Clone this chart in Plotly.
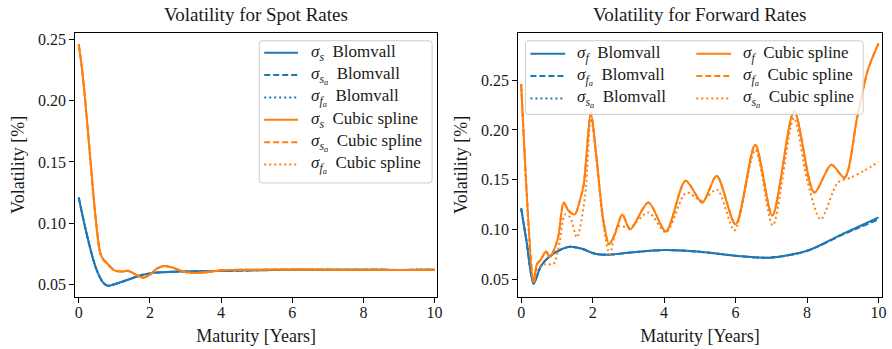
import plotly.graph_objects as go

BLUE = "#1f77b4"
ORANGE = "#ff7f0e"
FONT = "Liberation Serif"
TXT = "#1a1a1a"

# ---- Spot-rate volatility (left panel) ----
spot_maturity = [0, 0.1, 0.2, 0.3, 0.4, 0.5, 0.6, 0.7, 0.8, 0.9, 1.0, 1.2, 1.4, 1.6,
                 1.8, 2.0, 2.2, 2.4, 2.6, 2.8, 3.0, 3.3, 3.6, 4, 5, 6, 7, 8, 9, 10]
spot_blomvall = [0.121, 0.107, 0.094, 0.082, 0.071, 0.062, 0.0555, 0.051, 0.049, 0.0492,
                 0.050, 0.052, 0.054, 0.056, 0.0578, 0.059, 0.0597, 0.060, 0.0603, 0.0605,
                 0.0606, 0.0607, 0.0608, 0.061, 0.0615, 0.062, 0.062, 0.062, 0.0618, 0.062]
spot_cubic = [0.246, 0.224, 0.194, 0.161, 0.127, 0.097, 0.076, 0.070, 0.067, 0.064,
              0.0615, 0.0605, 0.061, 0.058, 0.0555, 0.058, 0.063, 0.065, 0.064, 0.062,
              0.060, 0.0593, 0.060, 0.0615, 0.062, 0.0622, 0.062, 0.062, 0.0618, 0.062]
# averaged measures coincide with the instantaneous ones on the spot curve
spot_sa_blomvall = spot_blomvall
spot_fa_blomvall = spot_blomvall
spot_sa_cubic = spot_cubic
spot_fa_cubic = spot_cubic

# ---- Forward-rate volatility (right panel) ----
fwd_maturity_blomvall = [0, 0.15, 0.35, 0.55, 0.77, 1.05, 1.37, 1.7, 2.07, 2.44, 3.0,
                         4.0, 5.0, 6.0, 6.94, 8.0, 9.0, 10]
fwd_f_blomvall = [0.121, 0.088, 0.0455, 0.063, 0.072, 0.0787, 0.0825, 0.0805, 0.0755,
                  0.0745, 0.0765, 0.0792, 0.0775, 0.0735, 0.0715, 0.0785, 0.0955, 0.112]
fwd_fa_blomvall = [0.121, 0.088, 0.0455, 0.063, 0.072, 0.0787, 0.0825, 0.0805, 0.0755,
                   0.0745, 0.0765, 0.0792, 0.0775, 0.0735, 0.0715, 0.0783, 0.0948, 0.110]
fwd_sa_blomvall = [0.121, 0.088, 0.0455, 0.063, 0.072, 0.0787, 0.0825, 0.0805, 0.0755,
                   0.0745, 0.0765, 0.0792, 0.0775, 0.0735, 0.0715, 0.0785, 0.0952, 0.111]

fwd_maturity_cubic = [0, 0.35, 0.44, 0.54, 0.7, 0.8, 0.97, 1.05, 1.19, 1.32, 1.5, 1.65,
                      1.75, 1.95, 2.1, 2.3, 2.46, 2.62, 2.83, 3.05, 3.56, 4.05, 4.6, 5.07,
                      5.47, 6.0, 6.55, 7.03, 7.64, 8.2, 8.68, 9.05, 9.4, 9.7, 10]
fwd_f_cubic = [0.246, 0.047, 0.065, 0.069, 0.078, 0.072, 0.084, 0.095, 0.127, 0.119,
               0.115, 0.130, 0.145, 0.217, 0.175, 0.109, 0.085, 0.095, 0.115, 0.100,
               0.127, 0.098, 0.149, 0.127, 0.154, 0.105, 0.185, 0.114, 0.219, 0.137,
               0.165, 0.152, 0.212, 0.260, 0.287]
fwd_fa_cubic = fwd_f_cubic

fwd_maturity_sa_cubic = [0, 0.35, 0.45, 0.68, 0.9, 1.05, 1.23, 1.37, 1.56, 1.79, 1.95,
                         2.1, 2.3, 2.48, 2.71, 3.05, 3.56, 4.05, 4.62, 5.05, 5.48, 5.97,
                         6.55, 7.04, 7.63, 8.0, 8.38, 8.86, 9.21, 9.6, 10]
fwd_sa_cubic = [0.246, 0.047, 0.060, 0.065, 0.065, 0.082, 0.115, 0.112, 0.092, 0.134,
                0.214, 0.172, 0.105, 0.075, 0.103, 0.102, 0.117, 0.097, 0.137, 0.129,
                0.140, 0.099, 0.180, 0.104, 0.212, 0.150, 0.110, 0.147, 0.152, 0.159,
                0.168]

x_ticks = [0, 2, 4, 6, 8, 10]
y_ticks = [0.05, 0.10, 0.15, 0.20, 0.25]

SOLID = "solid"
DASHED = "6px,3px"
DOTTED = "2px,3px"
GAP = "\u2002"  # space between the symbol and the method name


def sig(base, sub=None):
    if sub:
        return f"<i>σ</i><sub><i>{base}</i><sub><i>{sub}</i></sub></sub>"
    return f"<i>σ</i><sub><i>{base}</i></sub>"


W, H = 892, 349
fig = go.Figure()

left_entries = [
    (spot_maturity, spot_blomvall, sig("s") + GAP + "Blomvall", BLUE, SOLID),
    (spot_maturity, spot_sa_blomvall, sig("s", "a") + GAP + "Blomvall", BLUE, DASHED),
    (spot_maturity, spot_fa_blomvall, sig("f", "a") + GAP + "Blomvall", BLUE, DOTTED),
    (spot_maturity, spot_cubic, sig("s") + GAP + "Cubic spline", ORANGE, SOLID),
    (spot_maturity, spot_sa_cubic, sig("s", "a") + GAP + "Cubic spline", ORANGE, DASHED),
    (spot_maturity, spot_fa_cubic, sig("f", "a") + GAP + "Cubic spline", ORANGE, DOTTED),
]
right_entries = [
    (fwd_maturity_blomvall, fwd_f_blomvall, sig("f") + GAP + "Blomvall", BLUE, SOLID),
    (fwd_maturity_blomvall, fwd_fa_blomvall, sig("f", "a") + GAP + "Blomvall", BLUE, DASHED),
    (fwd_maturity_blomvall, fwd_sa_blomvall, sig("s", "a") + GAP + "Blomvall", BLUE, DOTTED),
    (fwd_maturity_cubic, fwd_f_cubic, sig("f") + GAP + "Cubic spline", ORANGE, SOLID),
    (fwd_maturity_cubic, fwd_fa_cubic, sig("f", "a") + GAP + "Cubic spline", ORANGE, DASHED),
    (fwd_maturity_sa_cubic, fwd_sa_cubic, sig("s", "a") + GAP + "Cubic spline", ORANGE, DOTTED),
]

for entries, xa, ya in [(left_entries, "x", "y"), (right_entries, "x2", "y2")]:
    for x, y, name, color, dash in entries:
        fig.add_trace(go.Scatter(
            x=x, y=y, mode="lines", name=name, showlegend=False,
            line=dict(color=color, width=2, dash=dash, shape="spline", smoothing=0.8),
            xaxis=xa, yaxis=ya,
        ))

# ---- legend boxes (pixel layout converted to paper coordinates) ----
shapes, annotations = [], []


def px(x):
    return x / W


def py(y):
    return 1 - y / H


def legend_box(x0, y0, x1, y1, r=3):
    path = (f"M {px(x0 + r)},{py(y0)} L {px(x1 - r)},{py(y0)} "
            f"Q {px(x1)},{py(y0)} {px(x1)},{py(y0 + r)} L {px(x1)},{py(y1 - r)} "
            f"Q {px(x1)},{py(y1)} {px(x1 - r)},{py(y1)} L {px(x0 + r)},{py(y1)} "
            f"Q {px(x0)},{py(y1)} {px(x0)},{py(y1 - r)} L {px(x0)},{py(y0 + r)} "
            f"Q {px(x0)},{py(y0)} {px(x0 + r)},{py(y0)} Z")
    shapes.append(dict(type="path", path=path, xref="paper", yref="paper",
                       fillcolor="rgba(255,255,255,0.8)",
                       line=dict(color="#cccccc", width=1), layer="above"))


def legend_item(key_x0, key_x1, text_x, y, label, color, dash):
    shapes.append(dict(type="line", xref="paper", yref="paper",
                       x0=px(key_x0), x1=px(key_x1), y0=py(y), y1=py(y),
                       line=dict(color=color, width=2, dash=dash), layer="above"))
    annotations.append(dict(text=label, xref="paper", yref="paper",
                            x=px(text_x), y=py(y), xanchor="left", yanchor="middle",
                            showarrow=False,
                            font=dict(family=FONT, size=17, color=TXT)))


legend_box(260, 39, 434, 182)
left_rows = [51, 73.5, 96, 118.5, 141, 163.5]
for row_y, (_, _, name, color, dash) in zip(left_rows, left_entries):
    legend_item(265, 299, 310, row_y, name, color, dash)

legend_box(528, 39, 868, 113)
right_rows = [52, 74.5, 97]
for i, (_, _, name, color, dash) in enumerate(right_entries):
    col, row = divmod(i, 3)
    if col == 0:
        legend_item(533, 568, 578, right_rows[row], name, color, dash)
    else:
        legend_item(700, 735, 745, right_rows[row], name, color, dash)

annotations += [
    dict(text="Volatility for Spot Rates", xref="paper", yref="paper",
         x=256.9 / W, y=1 - 13 / H, xanchor="center", yanchor="middle",
         showarrow=False, font=dict(family=FONT, size=19, color=TXT)),
    dict(text="Volatility for Forward Rates", xref="paper", yref="paper",
         x=703.7 / W, y=1 - 13 / H, xanchor="center", yanchor="middle",
         showarrow=False, font=dict(family=FONT, size=19, color=TXT)),
]

ydom = [1 - 296.7 / H, 1 - 31 / H]
axis_common = dict(
    showgrid=False, zeroline=False, showline=True, mirror=True,
    linecolor="black", linewidth=1, ticks="outside", ticklen=5, tickwidth=1,
    tickcolor="black", tickfont=dict(family=FONT, size=16, color=TXT),
)
x_title = dict(text="Maturity [Years]", font=dict(size=18), standoff=9)
y_title = dict(text="Volatility [%]", font=dict(size=18), standoff=8)

fig.update_layout(
    width=W, height=H,
    margin=dict(l=0, r=0, t=0, b=0),
    paper_bgcolor="white", plot_bgcolor="white",
    font=dict(family=FONT, size=16, color=TXT),
    showlegend=False,
    xaxis=dict(domain=[74.7 / W, 439 / W], range=[-0.1, 10.07], tickvals=x_ticks,
               anchor="y", title=x_title, ticklabelstandoff=-4, **axis_common),
    yaxis=dict(domain=ydom, range=[0.0397, 0.2554], tickvals=y_ticks, tickformat=".2f",
               anchor="x", title=y_title, **axis_common),
    xaxis2=dict(domain=[520.7 / W, 886.7 / W], range=[-0.083, 10.09], tickvals=x_ticks,
                anchor="y2", title=x_title, ticklabelstandoff=-4, **axis_common),
    yaxis2=dict(domain=ydom, range=[0.032, 0.2977], tickvals=y_ticks, tickformat=".2f",
                anchor="x2", title=y_title, **axis_common),
    shapes=shapes,
    annotations=annotations,
)

fig.write_html("out.html")
